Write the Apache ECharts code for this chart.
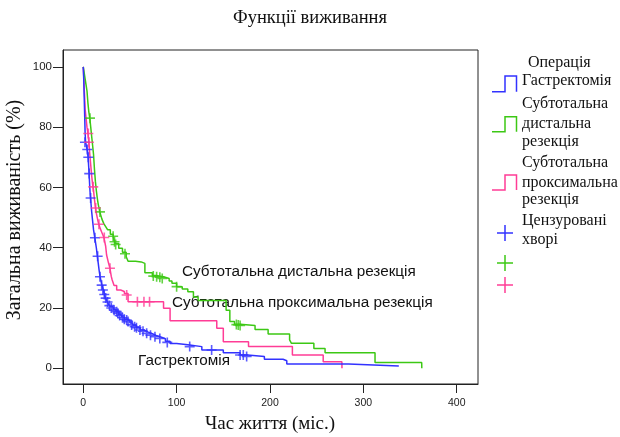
<!DOCTYPE html>
<html>
<head>
<meta charset="utf-8">
<script src="https://cdn.jsdelivr.net/npm/echarts@6/dist/echarts.min.js"></script>
<style>html,body{margin:0;padding:0;background:#fff}#c{width:620px;height:437px}</style>
</head>
<body>
<div id="c"></div>
<script>
// ---- data (time in months, survival in %) ----
const xTicks = [0, 100, 200, 300, 400];
const yTicks = [0, 20, 40, 60, 80, 100];

const gastrTime = [0,0.5,1,1.5,2,2.5,3.5,4.5,5.2,6,6.5,7,7.5,8.2,9,10,11,12,13,14,15,16,17,18,19,20,21.5,23,25,27,29,32,35,38,41,44,47,50,53,57,61,65,69,74,78,83,88,93,100,112,127,150,168,176,194,214,218,284,338];
const gastrSurv = [100,96,90,84,78,75,73.5,72,70,66,63,60,57.5,55,52,49,46,44,42,40,37.5,35,32.5,30.4,29,27.6,26,24,22.5,21.3,20.4,19.5,18.8,17.8,17,16.3,15.8,15,14.3,13.5,12.7,12.1,11.5,10.9,10.4,9.8,9,8.2,7.8,7.2,6.1,5.2,4.4,3.9,3.0,2.5,1.4,0.8,0.8];
const gastrCensT = [1.8,4.3,5.4,6.4,7.9,12.5,15.4,17.9,19.7,21,22.5,24,26,28,30,33,35.8,37,39,42,44,46.5,48,51.8,55,57,60.7,64,67.9,72,76.8,82,90,114,137.5,168,171.4,175];
const gastrCensS = [75,72.6,70,64.6,56.5,43.3,37.2,30.4,27.6,26,24.5,23.3,22,20.8,20,19.3,18.8,18.3,17.5,16.8,16.3,16,15.5,14.4,13.8,13.5,12.7,12.3,11.6,11,10.5,9.9,8.6,7.2,6.1,4.4,4.4,3.9];

const distTime = [0,1,2,3,4,5,6,7,8,9,10,11,12,13,14,15,16,17,18,20,22,24,26,29,32,34,38,42,46,48,56,62,66,74,78,86,92,95,100,106,112,118,123,153,157,162,168,184,198,221,223,247,259,312.5,362.5,362.6];
const distSurv = [100,98,96,94,92,88,85,83,80,77,74,71,66,62,59,56.5,54.5,53,51.5,49.5,48,47,46,44.5,43.6,41.4,39.8,38.5,37,35.5,35.3,34.8,31.7,30.8,30.4,29.8,29,28.2,27.1,26.3,25.4,23.7,22.5,19.3,15.5,14.6,14.2,12.9,11.4,9.4,8.3,6.6,5.2,1.9,1.9,0];
const distCensT = [7.2,17.9,32,33.5,34.7,44.7,75,78.6,82,84.6,100,164,166,168];
const distCensS = [83,51.9,43.8,42,41.1,38,30.6,30.4,30.2,29.8,27.1,14.5,14.4,14.2];

const proxTime = [0,0.5,1,1.5,2,3,4,5,6,7,8,9,10,11,12,13,14,15,16,17,18,20,22,24,25,27,28.6,30,31,33,35.8,40,44,48,86,93,143,150,177,224,257,277,277.1];
const proxSurv = [100,97,93,90,86,83,80,78,75,71,67.5,64,61,59,56,53.5,51.5,50,48.5,47.5,46.5,45,43.5,40.5,37.6,35,33.2,30.5,29.3,27.5,26,25.5,24.8,22.1,19.9,15.8,13.3,8.8,7.2,4.4,2.2,2.2,0];
const proxCensT = [5.4,6.1,10.7,13.3,16.8,22.5,28.6,46.5,58,65,71];
const proxCensS = [77.9,75,60.2,53.2,47.8,43.4,33.2,24.3,22.1,22.1,22.1];

const groupNames = ['Гастректомія', 'Субтотальна дистальна резекція', 'Субтотальна проксимальна резекція'];
const colors = ['#3232ff', '#3cc814', '#ff3c96'];

const zip = (a, b) => a.map((v, i) => [v, b[i]]);
const plus = 'path://M0,4.2H10V5.8H0Z M4.2,0H5.8V10H4.2Z';

const groups = [
  [gastrTime, gastrSurv, gastrCensT, gastrCensS],
  [distTime, distSurv, distCensT, distCensS],
  [proxTime, proxSurv, proxCensT, proxCensS]
];
const series = [];
groups.forEach((g, i) => {
  series.push({
    type: 'line', name: groupNames[i], step: 'end', data: zip(g[0], g[1]),
    showSymbol: false, lineStyle: {color: colors[i], width: 1.5}, z: 3 - i
  });
  series.push({
    type: 'scatter', data: zip(g[2], g[3]), symbol: plus, symbolSize: 10,
    itemStyle: {color: colors[i]}, z: 5
  });
});

const serif = '"Liberation Serif", "DejaVu Serif", serif';
const sans = '"Liberation Sans", Arial, sans-serif';

const chart = echarts.init(document.getElementById('c'), null, {renderer: 'canvas'});

const legendTexts = [
  {t: 'Операція', x: 528, y: 65},
  {t: 'Гастректомія', x: 522, y: 83},
  {t: 'Субтотальна', x: 522, y: 106},
  {t: 'дистальна', x: 522, y: 126},
  {t: 'резекція', x: 522, y: 144},
  {t: 'Субтотальна', x: 522, y: 165},
  {t: 'проксимальна', x: 522, y: 185},
  {t: 'резекція', x: 522, y: 202},
  {t: 'Цензуровані', x: 522, y: 223},
  {t: 'хворі', x: 522, y: 242}
];
const graphic = [];
legendTexts.forEach(o => graphic.push({
  type: 'text', left: o.x, top: o.y - 10,
  style: {text: o.t, font: '16px ' + serif, fill: '#111'}
}));
[[91.7, 76], [131.7, 116.7], [190, 175]].forEach((p, i) => graphic.push({
  type: 'polyline', shape: {points: [[492, p[0]], [505, p[0]], [505, p[1]], [516.5, p[1]], [516.5, p[0]]]},
  style: {stroke: colors[i], lineWidth: 1.5, fill: null}
}));
[233, 263, 285].forEach((cy, i) => {
  graphic.push({type: 'line', shape: {x1: 497, y1: cy, x2: 513, y2: cy}, style: {stroke: colors[i], lineWidth: 1.5}});
  graphic.push({type: 'line', shape: {x1: 505, y1: cy - 8, x2: 505, y2: cy + 8}, style: {stroke: colors[i], lineWidth: 1.5}});
});
// curve annotations
[[groupNames[1], 182, 273], [groupNames[2], 172, 304], [groupNames[0], 138, 362]].forEach(a => graphic.push({
  type: 'text', left: a[1], top: a[2] - 9,
  style: {text: a[0], font: '15.3px ' + sans, fill: '#111'}
}));
// y-axis title
graphic.push({
  type: 'text', rotation: Math.PI / 2, x: 15, y: 210,
  style: {text: 'Загальна виживаність (%)', font: '20px ' + serif, fill: '#111', align: 'center', verticalAlign: 'middle'},
  originX: 0, originY: 0
});
// chart title
graphic.push({
  type: 'text', x: 310, y: 18,
  style: {text: 'Функції виживання', font: '18.5px ' + serif, fill: '#111', align: 'center', verticalAlign: 'middle'}
});
// x-axis title
graphic.push({
  type: 'text', x: 270, y: 424,
  style: {text: 'Час життя (міс.)', font: '19px ' + serif, fill: '#111', align: 'center', verticalAlign: 'middle'}
});

chart.setOption({
  animation: false,
  backgroundColor: '#fff',
  grid: {left: 63, top: 50, right: 142, bottom: 53, show: true, borderColor: '#222', borderWidth: 1,
         containLabel: false, outerBoundsMode: 'none'},
  xAxis: {
    type: 'value', min: -21.7, max: 422.8,
    axisLine: {show: true, onZero: false, lineStyle: {color: '#222'}},
    axisTick: {show: true, length: 9, customValues: xTicks, lineStyle: {color: '#222'}},
    axisLabel: {customValues: xTicks, margin: 14, fontFamily: sans, fontSize: 10.5, color: '#222'},
    splitLine: {show: false}
  },
  yAxis: {
    type: 'value', min: -5.2, max: 105.6,
    axisLine: {show: true, onZero: false, lineStyle: {color: '#222'}},
    axisTick: {show: true, length: 10, customValues: yTicks, lineStyle: {color: '#222'}},
    axisLabel: {customValues: yTicks, margin: 11, fontFamily: sans, fontSize: 11.5, color: '#222'},
    splitLine: {show: false}
  },
  graphic: graphic,
  series: series
});
</script>
</body>
</html>
